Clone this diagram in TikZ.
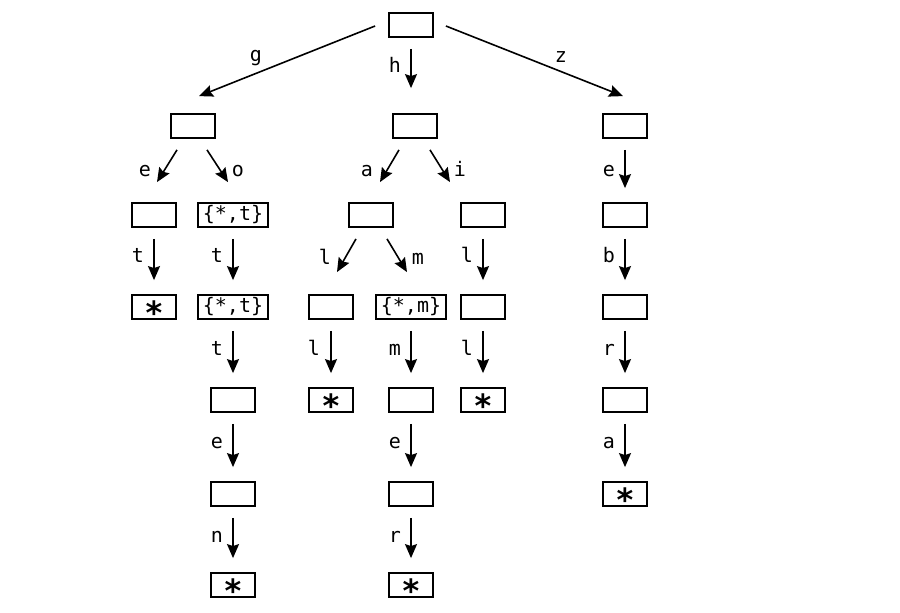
\documentclass[tikz,border=0pt]{standalone}
\usepackage{fontspec}
\setmonofont{DejaVu Sans Mono}
\usetikzlibrary{arrows.meta}
\newcommand\trieleaf{{\bfseries\fontsize{32}{32}\selectfont\smash{\raisebox{-0.55em}{*}}}}
\begin{document}
\begin{tikzpicture}[x=1pt,y=-1pt,
  box/.style={draw,line width=1.8pt,minimum width=44pt,minimum height=24pt,inner sep=0pt,font=\ttfamily\fontsize{20}{20}\selectfont},
  wbox/.style={box,minimum width=70pt},
  arr/.style={line width=1.6pt,-{Stealth[length=14pt,width=12pt,inset=2pt]}},
  vedge/.style={arr,shorten <=11pt,shorten >=14pt},
  lab/.style={anchor=base,inner sep=0pt,font=\ttfamily\fontsize{20}{20}\selectfont}]
\useasboundingbox (0,0) rectangle (900,613);
% nodes
\node[box] (root) at (411,25) {};
\node[box] (n1g) at (193,126) {};
\node[box] (n1h) at (415,126) {};
\node[box] (n1z) at (625,126) {};
\node[box] (n2e) at (154,215) {};
\node[wbox] (n2o) at (233,215) {\{*,t\}};
\node[box] (n2a) at (371,215) {};
\node[box] (n2i) at (483,215) {};
\node[box] (n2z) at (625,215) {};
\node[box] (n3e) at (154,307) {\trieleaf};
\node[wbox] (n3o) at (233,307) {\{*,t\}};
\node[box] (n3l) at (331,307) {};
\node[wbox] (n3m) at (411,307) {\{*,m\}};
\node[box] (n3i) at (483,307) {};
\node[box] (n3z) at (625,307) {};
\node[box] (n4o) at (233,400) {};
\node[box] (n4l) at (331,400) {\trieleaf};
\node[box] (n4m) at (411,400) {};
\node[box] (n4i) at (483,400) {\trieleaf};
\node[box] (n4z) at (625,400) {};
\node[box] (n5o) at (233,494) {};
\node[box] (n5m) at (411,494) {};
\node[box] (n5z) at (625,494) {\trieleaf};
\node[box] (n6o) at (233,585) {\trieleaf};
\node[box] (n6m) at (411,585) {\trieleaf};
% edges
\draw[arr] ([xshift=-13pt,yshift=-1pt]root.west) -- ([xshift=6pt,yshift=17pt]n1g.north);
\draw[arr] ([yshift=-11pt]root.south) -- ([xshift=-4pt,yshift=25pt]n1h.north);
\draw[arr] ([xshift=12pt,yshift=-1pt]root.east) -- ([xshift=-2pt,yshift=17pt]n1z.north);
\draw[arr] ([xshift=-16pt,yshift=-11pt]n1g.south) -- ([xshift=3pt,yshift=20pt]n2e.north);
\draw[arr] ([xshift=14pt,yshift=-11pt]n1g.south) -- ([xshift=-5pt,yshift=20pt]n2o.north);
\draw[arr] ([xshift=-16pt,yshift=-11pt]n1h.south) -- ([xshift=9pt,yshift=20pt]n2a.north);
\draw[arr] ([xshift=15pt,yshift=-11pt]n1h.south) -- ([xshift=-33pt,yshift=20pt]n2i.north);
\draw[vedge] (n1z.south) -- (n2z.north);
\draw[vedge] (n2e.south) -- (n3e.north);
\draw[vedge] (n2o.south) -- (n3o.north);
\draw[arr] ([xshift=-15pt,yshift=-11pt]n2a.south) -- ([xshift=6pt,yshift=22pt]n3l.north);
\draw[arr] ([xshift=16pt,yshift=-11pt]n2a.south) -- ([xshift=-4pt,yshift=22pt]n3m.north);
\draw[vedge] (n2i.south) -- (n3i.north);
\draw[vedge] (n2z.south) -- (n3z.north);
\draw[vedge] (n3o.south) -- (n4o.north);
\draw[vedge] (n3l.south) -- (n4l.north);
\draw[vedge] (n3m.south) -- (n4m.north);
\draw[vedge] (n3i.south) -- (n4i.north);
\draw[vedge] (n3z.south) -- (n4z.north);
\draw[vedge] (n4o.south) -- (n5o.north);
\draw[vedge] (n4m.south) -- (n5m.north);
\draw[vedge] (n4z.south) -- (n5z.north);
\draw[vedge] (n5o.south) -- (n6o.north);
\draw[vedge] (n5m.south) -- (n6m.north);
% labels
\node[lab] (lg) at (256,61) {g};
\node[lab] (lh) at (395,72) {h};
\node[lab] (lz) at (561,62) {z};
\node[lab] (le1) at (145,176) {e};
\node[lab] (lo) at (238,176) {o};
\node[lab] (la) at (367,176) {a};
\node[lab] (li) at (460,176) {i};
\node[lab] (le2) at (609,176) {e};
\node[lab] (lt1) at (138,262) {t};
\node[lab] (lt2) at (217,262) {t};
\node[lab] (ll1) at (325,264) {l};
\node[lab] (lm1) at (418,264) {m};
\node[lab] (ll2) at (467,262) {l};
\node[lab] (lb) at (609,262) {b};
\node[lab] (lt3) at (217,355) {t};
\node[lab] (ll3) at (314,355) {l};
\node[lab] (lm2) at (395,355) {m};
\node[lab] (ll4) at (467,355) {l};
\node[lab] (lr1) at (609,355) {r};
\node[lab] (le3) at (217,448) {e};
\node[lab] (le4) at (395,448) {e};
\node[lab] (la2) at (609,448) {a};
\node[lab] (ln) at (217,542) {n};
\node[lab] (lr2) at (395,542) {r};
\end{tikzpicture}
\end{document}
